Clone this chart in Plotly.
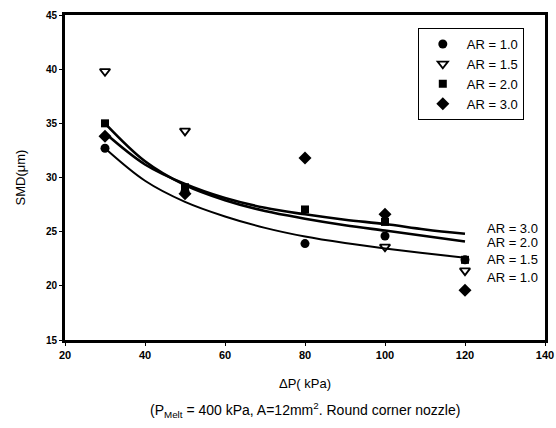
import plotly.graph_objects as go

# Measured data (SMD in micrometres vs pressure drop in kPa)
dp = [30, 50, 80, 100, 120]
smd_ar10 = [32.7, 28.7, 23.9, 24.6, 22.4]
smd_ar15 = [39.8, 34.3, None, 23.6, 21.4]
smd_ar20 = [35.0, 29.1, 27.05, 25.9, 22.4]
smd_ar30 = [33.8, 28.5, 31.8, 26.6, 19.6]

# Trend curves
fit_x = [30, 40, 50, 60, 70, 80, 90, 100, 110, 120]
fit_ar10 = [32.7, 29.7, 27.75, 26.4, 25.35, 24.55, 23.95, 23.45, 23.0, 22.6]
fit_ar20 = [35.0, 31.5, 29.3, 27.9, 26.9, 26.2, 25.6, 25.1, 24.6, 24.1]
fit_ar30 = [34.1, 31.2, 29.4, 28.1, 27.2, 26.6, 26.1, 25.7, 25.2, 24.8]

curve_labels = ["AR = 3.0", "AR = 2.0", "AR = 1.5", "AR = 1.0"]
curve_label_y = [25.3, 24.0, 22.45, 20.8]

x_ticks = [20, 40, 60, 80, 100, 120, 140]
y_ticks = [15, 20, 25, 30, 35, 40, 45]

FONT = "Liberation Sans, Arial, sans-serif"

fig = go.Figure()

for fy, w in [(fit_ar10, 2), (fit_ar20, 2.6), (fit_ar30, 2.6)]:
    fig.add_trace(go.Scatter(x=fit_x, y=fy, mode="lines", line=dict(color="black", width=w, shape="spline"),
                             showlegend=False, hoverinfo="skip"))

fig.add_trace(go.Scatter(x=dp, y=smd_ar15, mode="markers", name="AR = 1.5", legendrank=2,
                         marker=dict(symbol="triangle-down-open", size=9, color="black", line=dict(width=1.8))))
fig.add_trace(go.Scatter(x=dp, y=smd_ar10, mode="markers", name="AR = 1.0", legendrank=1,
                         marker=dict(symbol="circle", size=9, color="black")))
fig.add_trace(go.Scatter(x=dp, y=smd_ar20, mode="markers", name="AR = 2.0", legendrank=3,
                         marker=dict(symbol="square", size=8, color="black")))
fig.add_trace(go.Scatter(x=dp, y=smd_ar30, mode="markers", name="AR = 3.0", legendrank=4,
                         marker=dict(symbol="diamond", size=10, color="black")))

for lab, yy in zip(curve_labels, curve_label_y):
    fig.add_annotation(x=125, y=yy, text=lab, showarrow=False, xanchor="left", yanchor="middle",
                       font=dict(family=FONT, size=13, color="black"))

fig.add_annotation(xref="paper", yref="paper", x=0.5, y=-0.135, text="ΔP( kPa)", showarrow=False,
                   xanchor="center", yanchor="middle", font=dict(family=FONT, size=13, color="black"))
fig.add_annotation(xref="paper", yref="paper", x=0.5, y=-0.215,
                   text="(P<sub>Melt</sub> = 400 kPa, A=12mm<sup>2</sup>. Round corner nozzle)",
                   showarrow=False, xanchor="center", yanchor="middle",
                   font=dict(family=FONT, size=14, color="black"))

fig.update_layout(
    width=556, height=428,
    margin=dict(l=65, r=11, t=15, b=88, autoexpand=False),
    paper_bgcolor="white", plot_bgcolor="white",
    font=dict(family=FONT, color="black"),
    legend=dict(x=0.735, y=0.96, xanchor="left", yanchor="top",
                traceorder="normal", bordercolor="black", borderwidth=1,
                font=dict(family=FONT, size=13, color="black"),
                bgcolor="white", itemwidth=38, tracegroupgap=0),
    xaxis=dict(range=[20, 140], tickvals=x_ticks, showgrid=False, zeroline=False, automargin=False,
               showline=True, linecolor="black", linewidth=3, mirror=True,
               ticks="outside", ticklen=3, tickcolor="black", ticklabeloverflow="allow",
               tickfont=dict(family=FONT, size=11, color="black", weight="bold")),
    yaxis=dict(range=[15, 45], tickvals=y_ticks, showgrid=False, zeroline=False, automargin=False,
               showline=True, linecolor="black", linewidth=3, mirror=True,
               ticks="outside", ticklen=3, tickcolor="black",
               tickfont=dict(family=FONT, size=10, color="black", weight="bold"),
               title=dict(text="SMD(μm)", font=dict(family=FONT, size=13, color="black"), standoff=18)),
)

fig.write_html("out.html", config={"displayModeBar": False},
               post_script="document.body.style.margin='0';document.body.style.padding='0';")
